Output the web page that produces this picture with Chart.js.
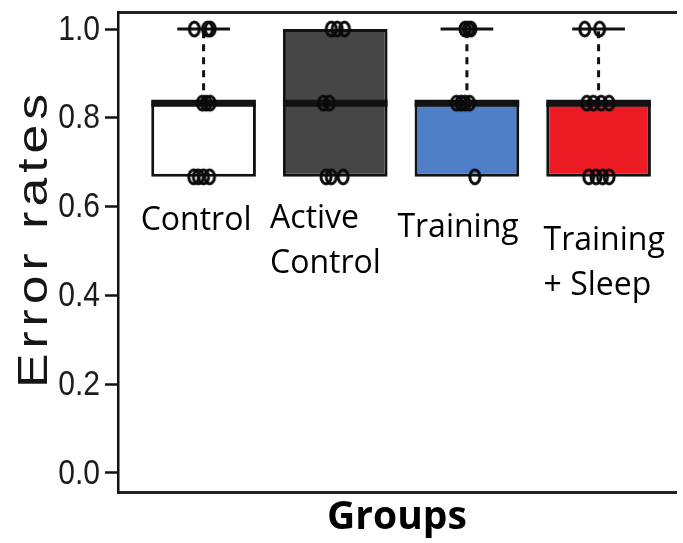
<!DOCTYPE html>
<html>
<head>
<meta charset="utf-8">
<title>Error rates by group</title>
<script src="https://cdn.jsdelivr.net/npm/chart.js@4.4.0/dist/chart.umd.min.js"></script>
<style>
  html, body { margin: 0; padding: 0; background: #ffffff; }
  #wrap { width: 683px; height: 543px; }
</style>
</head>
<body>
<div id="wrap"><canvas id="chart" width="683" height="543"></canvas></div>
<script>
// Group names (one entry per printed line)
const groupNames = [['Control'], ['Active', 'Control'], ['Training'], ['Training', '+ Sleep']];
const groupPositions = [1, 2, 3, 4];

// Box-plot summaries
const lowerQuartile = [0.667, 0.667, 0.667, 0.667];
const medianValue   = [0.833, 0.833, 0.833, 0.833];
const upperQuartile = [0.833, 1.0, 0.833, 0.833];
const whiskerMin    = [0.667, 0.667, 0.667, 0.667];
const whiskerMax    = [1.0, 1.0, 1.0, 1.0];

// Individual error rates per group, with their horizontal jitter (category units)
const obsValues = [
  [1.0, 1.0, 1.0, 0.833, 0.833, 0.833, 0.667, 0.667, 0.667, 0.667],
  [1.0, 1.0, 1.0, 0.833, 0.833, 0.667, 0.667, 0.667],
  [1.0, 1.0, 1.0, 0.833, 0.833, 0.833, 0.833, 0.667],
  [1.0, 1.0, 0.833, 0.833, 0.833, 0.833, 0.667, 0.667, 0.667, 0.667]
];
const obsJitter = [
  [-0.07, 0.03, 0.05, -0.01, 0.02, 0.05, -0.075, -0.04, 0.0, 0.045],
  [-0.03, 0.015, 0.07, -0.09, -0.045, -0.07, -0.03, 0.06],
  [-0.015, 0.01, 0.03, -0.08, -0.045, -0.015, 0.02, 0.06],
  [-0.105, 0.0075, -0.09, -0.04, 0.02, 0.08, -0.075, -0.02, 0.03, 0.08]
];

const yTicks = [0, 0.2, 0.4, 0.6, 0.8, 1.0];

// Styling
const boxColors = ['#ffffff', '#464646', '#4f7fc6', '#ed1c24'];
const BOX_FRACTION = 0.795;        // box width as a share of one category
const CAP_HALF = 0.2;              // whisker cap half-width (category units)
const INK = '#121212';

// Open ring used for every observation
function ringMarker() {
  const c = document.createElement('canvas');
  c.width = 18; c.height = 22;
  const g = c.getContext('2d');
  g.lineWidth = 3;
  g.strokeStyle = '#0a0a0a';
  g.beginPath();
  g.ellipse(9, 11, 5, 6.9, 0, 0, Math.PI * 2);
  g.stroke();
  return c;
}

// Segment builders (null breaks the line between groups)
function segments(pairs) {
  const out = [];
  pairs.forEach(([a, b]) => { out.push(a, b, { x: b.x, y: null }); });
  return out;
}

const half = BOX_FRACTION / 2;
const medianData = segments(groupPositions.map((p, i) => [
  { x: p - half, y: medianValue[i] }, { x: p + half, y: medianValue[i] }
]));

const capPairs = [];
const stemPairs = [];
groupPositions.forEach((p, i) => {
  if (whiskerMax[i] > upperQuartile[i]) {
    capPairs.push([{ x: p - CAP_HALF, y: whiskerMax[i] }, { x: p + CAP_HALF, y: whiskerMax[i] }]);
    stemPairs.push([{ x: p, y: upperQuartile[i] }, { x: p, y: whiskerMax[i] }]);
  }
  if (whiskerMin[i] < lowerQuartile[i]) {
    capPairs.push([{ x: p - CAP_HALF, y: whiskerMin[i] }, { x: p + CAP_HALF, y: whiskerMin[i] }]);
    stemPairs.push([{ x: p, y: whiskerMin[i] }, { x: p, y: lowerQuartile[i] }]);
  }
});

const pointData = [];
obsValues.forEach((vals, g) => {
  vals.forEach((v, k) => pointData.push({ x: groupPositions[g] + obsJitter[g][k], y: v }));
});

// Where each group name starts (data coordinates of the first baseline)
const labelAnchors = [
  { x: 0.522, y: 0.547 },
  { x: 1.505, y: 0.552 },
  { x: 2.472, y: 0.5315 },
  { x: 3.582, y: 0.502 }
];
const LABEL_LINE_GAP = 45;

const overlayText = {
  id: 'overlayText',
  afterDraw(chart) {
    const { ctx, scales: { x, y } } = chart;
    ctx.save();

    // Y tick labels: condensed, set against the tick marks
    ctx.fillStyle = '#1c1c1c';
    ctx.font = '35px "Liberation Sans", Arial, sans-serif';
    ctx.textAlign = 'right';
    ctx.textBaseline = 'middle';
    const labelRight = y.right - y.options.grid.tickLength - 5;
    y.ticks.forEach(t => {
      ctx.save();
      ctx.translate(labelRight, y.getPixelForValue(t.value));
      ctx.scale(0.86, 1);
      ctx.fillText(Number(t.value).toFixed(1), 0, 1);
      ctx.restore();
    });

    // Group names inside the plot
    ctx.fillStyle = '#000000';
    ctx.font = '32px "Open Sans"';
    ctx.textAlign = 'left';
    ctx.textBaseline = 'alphabetic';
    groupNames.forEach((lines, i) => {
      const a = labelAnchors[i];
      lines.forEach((t, j) => {
        ctx.fillText(t, x.getPixelForValue(a.x), y.getPixelForValue(a.y) + j * LABEL_LINE_GAP);
      });
    });

    // Vertical axis title, drawn tall and slightly spaced
    const spacing = 4.2;
    ctx.font = '43px "Liberation Sans", Arial, sans-serif';
    ctx.fillStyle = '#161616';
    if ('letterSpacing' in ctx) ctx.letterSpacing = spacing + 'px';
    const w = ctx.measureText('Error rates').width - spacing;
    ctx.translate(47, 241);
    ctx.rotate(-Math.PI / 2);
    ctx.scale(1.2, 1);
    ctx.fillText('Error rates', -w / 2, 0);
    ctx.restore();
  }
};

new Chart(document.getElementById('chart'), {
  type: 'bar',
  data: {
    datasets: [
      {
        type: 'scatter',
        label: 'observations',
        data: pointData,
        pointStyle: ringMarker(),
        pointRadius: 6,
        order: 0
      },
      {
        type: 'line',
        label: 'median',
        data: medianData,
        borderColor: INK,
        borderWidth: 7,
        borderCapStyle: 'butt',
        pointRadius: 0,
        fill: false,
        tension: 0,
        order: 1
      },
      {
        type: 'line',
        label: 'whisker caps',
        data: segments(capPairs),
        borderColor: INK,
        borderWidth: 3,
        borderCapStyle: 'butt',
        pointRadius: 0,
        fill: false,
        order: 2
      },
      {
        type: 'line',
        label: 'whiskers',
        data: segments(stemPairs),
        borderColor: INK,
        borderWidth: 3,
        borderDash: [7, 6],
        borderCapStyle: 'butt',
        pointRadius: 0,
        fill: false,
        order: 3
      },
      {
        type: 'bar',
        label: 'boxes',
        data: groupPositions.map((p, i) => ({ x: p, y: [lowerQuartile[i], upperQuartile[i]] })),
        backgroundColor: boxColors,
        borderColor: INK,
        borderWidth: 3,
        borderSkipped: false,
        barPercentage: BOX_FRACTION,
        categoryPercentage: 1,
        order: 5
      }
    ]
  },
  options: {
    responsive: false,
    animation: false,
    events: [],
    layout: { padding: 0 },
    plugins: { legend: { display: false }, tooltip: { enabled: false } },
    scales: {
      x: {
        type: 'linear',
        position: 'bottom',
        min: 0.35,
        max: 4.588,
        offset: false,
        afterBuildTicks(s) { s.ticks = groupPositions.map(v => ({ value: v })); },
        ticks: { display: false },
        grid: { display: false, offset: false },
        border: { display: true, width: 3, color: '#222222' },
        title: {
          display: true,
          text: 'Groups',
          color: '#000000',
          font: { family: '"Open Sans"', weight: 'bold', size: 39 },
          padding: { top: 0, bottom: 2 }
        },
        afterFit(s) { s.height = 51; }
      },
      xTop: {
        axis: 'x',
        type: 'linear',
        position: 'top',
        min: 0.35,
        max: 4.588,
        offset: false,
        ticks: { display: false },
        grid: { display: false, offset: false },
        border: { display: true, width: 3, color: '#222222' },
        afterFit(s) { s.height = 12; }
      },
      y: {
        type: 'linear',
        min: -0.0428,
        max: 1.0383,
        afterBuildTicks(s) { s.ticks = yTicks.map(v => ({ value: v })); },
        ticks: { display: false },
        grid: {
          drawOnChartArea: false,
          drawTicks: true,
          tickLength: 13,
          tickWidth: 2.5,
          tickColor: INK
        },
        border: { display: true, width: 2.5, color: INK },
        afterFit(s) { s.width = 118; }
      }
    }
  },
  plugins: [overlayText]
});
</script>
</body>
</html>
